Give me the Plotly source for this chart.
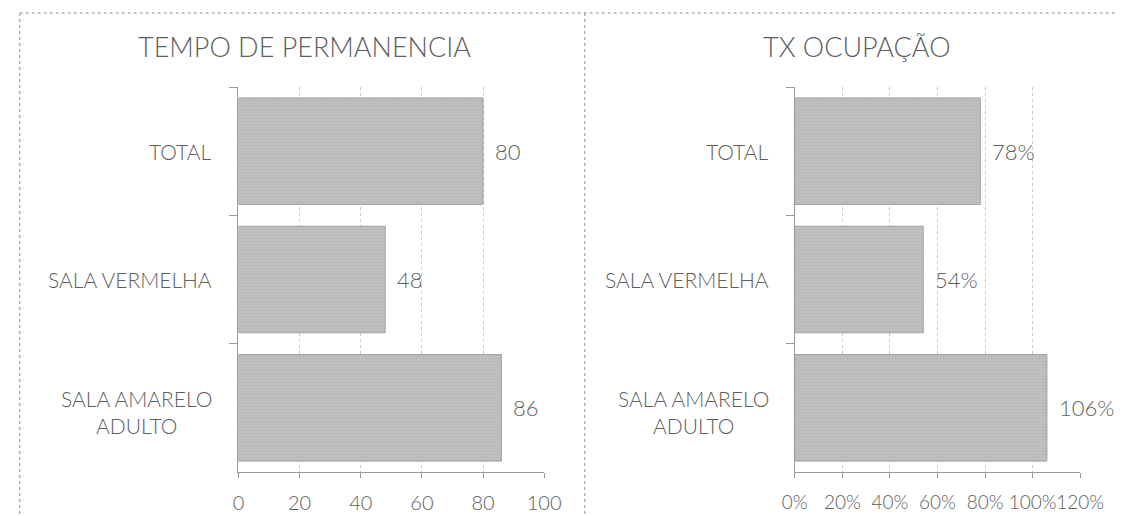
import plotly.graph_objects as go

W, H = 1140, 516

categories = ["TOTAL", "SALA VERMELHA", "SALA AMARELO<br>ADULTO"]
tempo_values = [80, 48, 86]
ocup_values = [0.78, 0.54, 1.06]
tempo_labels = ["80", "48", "86"]
ocup_labels = ["78%", "54%", "106%"]
tempo_ticks = [0, 20, 40, 60, 80, 100]
ocup_ticks = [0, 0.2, 0.4, 0.6, 0.8, 1.0, 1.2]
ocup_ticktext = ["0%", "20%", "40%", "60%", "80%", "100%", "120%"]
titles = ["TEMPO DE PERMANENCIA", "TX OCUPAÇÃO"]

FONT = "Lato"
WEIGHT = 300
TXT = "#5e5e5e"
AX = "#9a9a9a"
GRID = "#c9c9c9"

def px_x(p):
    return p / W

def px_y(p):
    return 1 - p / H

def fnt(size):
    return dict(family=FONT, size=size, color=TXT, weight=WEIGHT)

ydom = [px_y(472), px_y(87)]

fig = go.Figure()

bar_style = dict(
    orientation="h",
    marker=dict(
        color="#b9b9b9",
        line=dict(color="#a0a0a0", width=1),
        pattern=dict(shape=".", fgcolor="#a2a2a2", bgcolor="#c0c0c0", size=3, solidity=0.25),
    ),
    showlegend=False,
    hoverinfo="skip",
)

fig.add_trace(go.Bar(x=tempo_values, y=categories, xaxis="x", yaxis="y", **bar_style))
fig.add_trace(go.Bar(x=ocup_values, y=categories, xaxis="x2", yaxis="y2", **bar_style))

xcommon = dict(
    showgrid=True, gridcolor=GRID, griddash="dot", gridwidth=1,
    showline=True, linecolor=AX, linewidth=1,
    ticks="outside", ticklen=5, tickcolor=AX,
    zeroline=False, ticklabelstandoff=8, tickangle=0,
    fixedrange=True,
)
ycommon = dict(
    type="category", categoryorder="array", categoryarray=categories,
    autorange="reversed",
    showgrid=False, showline=True, linecolor=AX, linewidth=1,
    ticks="outside", tickson="boundaries", ticklen=8, tickcolor=AX,
    showticklabels=False, zeroline=False, domain=ydom, fixedrange=True,
)

fig.update_layout(
    width=W, height=H,
    margin=dict(l=0, r=0, t=0, b=0),
    paper_bgcolor="white", plot_bgcolor="white",
    bargap=0.17,
    xaxis=dict(domain=[px_x(233), px_x(549)], range=[0, 100], tickvals=tempo_ticks,
               anchor="y", tickfont=fnt(20), **xcommon),
    yaxis=dict(anchor="x", **ycommon),
    xaxis2=dict(domain=[px_x(808), px_x(1103)], range=[0, 1.2], tickvals=ocup_ticks,
                ticktext=ocup_ticktext, anchor="y2", tickfont=fnt(19), **xcommon),
    yaxis2=dict(anchor="x2", **ycommon),
)

annotations = []
# category labels, centre aligned like the original
for xa, ya in (("x", "y"), ("x2", "y2")):
    for c in categories:
        annotations.append(dict(
            x=0, xref=f"{xa} domain", y=c, yref=ya, xanchor="right", yanchor="middle",
            xshift=-24, yshift=-4 if "<br>" in c else 0,
            text=c, showarrow=False, align="center", font=fnt(21),
        ))
# value labels
for v, t, c in zip(tempo_values, tempo_labels, categories):
    annotations.append(dict(x=v, xref="x", y=c, yref="y", xanchor="left", xshift=10,
                            text=t, showarrow=False, font=fnt(22)))
for v, t, c in zip(ocup_values, ocup_labels, categories):
    annotations.append(dict(x=v, xref="x2", y=c, yref="y2", xanchor="left", xshift=10,
                            text=t, showarrow=False, font=fnt(22)))
# panel titles
for t, cx in zip(titles, (301, 872)):
    annotations.append(dict(x=px_x(cx), xref="paper", y=px_y(46), yref="paper",
                            xanchor="center", yanchor="middle", text=t, showarrow=False,
                            font=fnt(27)))
fig.update_layout(annotations=annotations)

frame = dict(color="#8c8c8c", width=1, dash="dot")
fig.update_layout(shapes=[
    dict(type="line", xref="paper", yref="paper", x0=px_x(7), x1=1, y0=px_y(13), y1=px_y(13), line=frame),
    dict(type="line", xref="paper", yref="paper", x0=px_x(7), x1=px_x(7), y0=px_y(13), y1=0, line=frame),
    dict(type="line", xref="paper", yref="paper", x0=px_x(591), x1=px_x(591), y0=px_y(13), y1=0, line=frame),
])

fig.write_html("out.html", config=dict(displayModeBar=False))
